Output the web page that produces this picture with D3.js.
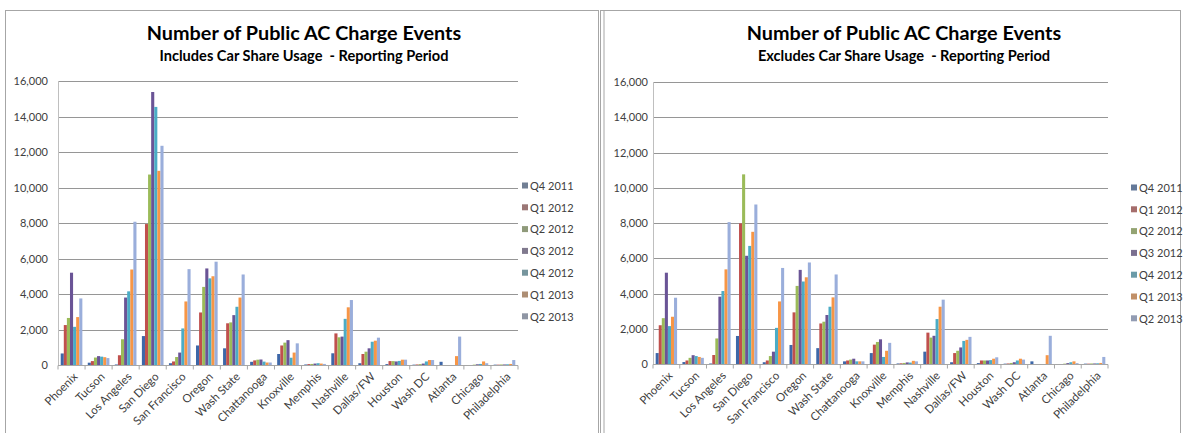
<!DOCTYPE html>
<html>
<head>
<meta charset="utf-8">
<script src="https://cdn.jsdelivr.net/npm/d3@7"></script>
<style>
  html, body { margin: 0; padding: 0; background: #fff; }
  svg { display: block; }
  text { font-family: Lato, "Open Sans", "DejaVu Sans", sans-serif; white-space: pre; }
</style>
</head>
<body>
<svg id="chart" width="1184" height="433"></svg>
<script>
// Cities on the horizontal axis
const cities = ["Phoenix", "Tucson", "Los Angeles", "San Diego", "San Francisco", "Oregon",
  "Wash State", "Chattanooga", "Knoxville", "Memphis", "Nashville", "Dallas/FW",
  "Houston", "Wash DC", "Atlanta", "Chicago", "Philadelphia"];

// Reporting quarters (one bar per quarter in every city)
const quarters = ["Q4 2011", "Q1 2012", "Q2 2012", "Q3 2012", "Q4 2012", "Q1 2013", "Q2 2013"];

// Charge events including car share usage, one array per quarter (city order as above)
const incQ4_2011 = [650, 130, 30, 1630, 100, 1100, 940, 180, 620, 30, 660, 100, 50, 20, 180, 0, 20];
const incQ1_2012 = [2250, 220, 550, 7940, 200, 2960, 2350, 260, 1100, 50, 1780, 620, 220, 30, 0, 0, 20];
const incQ2_2012 = [2650, 420, 1450, 10730, 450, 4400, 2400, 300, 1260, 60, 1560, 750, 220, 50, 0, 20, 30];
const incQ3_2012 = [5200, 500, 3800, 15380, 700, 5440, 2810, 310, 1400, 80, 1600, 940, 200, 80, 0, 40, 30];
const incQ4_2012 = [2150, 470, 4150, 14540, 2060, 4880, 3280, 190, 410, 100, 2600, 1310, 230, 200, 0, 60, 40];
const incQ1_2013 = [2700, 440, 5380, 10940, 3580, 5000, 3800, 140, 700, 80, 3250, 1370, 300, 280, 500, 200, 60];
const incQ2_2013 = [3750, 390, 8070, 12350, 5400, 5820, 5100, 140, 1220, 60, 3660, 1540, 300, 280, 1600, 100, 280];

// Charge events excluding car share usage
const excQ4_2011 = [620, 110, 30, 1590, 100, 1080, 900, 150, 620, 30, 700, 100, 50, 20, 150, 0, 20];
const excQ1_2012 = [2200, 200, 510, 7980, 200, 2930, 2300, 200, 1100, 40, 1780, 620, 200, 30, 0, 0, 20];
const excQ2_2012 = [2600, 350, 1450, 10760, 450, 4430, 2400, 250, 1250, 60, 1500, 750, 200, 60, 0, 20, 30];
const excQ3_2012 = [5180, 500, 3820, 6140, 700, 5340, 2780, 300, 1400, 90, 1600, 940, 200, 100, 0, 50, 30];
const excQ4_2012 = [2150, 450, 4140, 6700, 2050, 4680, 3250, 150, 400, 80, 2550, 1310, 220, 200, 0, 100, 40];
const excQ1_2013 = [2680, 400, 5370, 7500, 3550, 4920, 3780, 150, 750, 180, 3250, 1370, 300, 300, 500, 150, 60];
const excQ2_2013 = [3760, 350, 8050, 9050, 5450, 5760, 5080, 150, 1200, 150, 3650, 1540, 380, 250, 1600, 50, 400];

// Value axis ticks
const yTicks = [0, 2000, 4000, 6000, 8000, 10000, 12000, 14000, 16000];

const title = "Number of Public AC Charge Events";
const subtitles = ["Includes Car Share Usage  - Reporting Period", "Excludes Car Share Usage  - Reporting Period"];

const seriesColors = ["#3d67a8", "#c0504d", "#9bbb59", "#6a5496", "#4bacc6", "#f79646", "#9aaedb"];

const svg = d3.select("#chart");

function drawPanel(cfg) {
  const g = svg.append("g");

  // panel frame
  g.append("rect")
    .attr("x", cfg.frame[0]).attr("y", cfg.frame[1])
    .attr("width", cfg.frame[2]).attr("height", cfg.frame[3])
    .attr("fill", "#fff").attr("stroke", "#a6a6a6").attr("stroke-width", 1);
  if (cfg.doubleEdge) {
    g.append("line")
      .attr("x1", cfg.frame[0] + 3.5).attr("x2", cfg.frame[0] + 3.5)
      .attr("y1", cfg.frame[1]).attr("y2", cfg.frame[1] + cfg.frame[3])
      .attr("stroke", "#a6a6a6");
  }

  // titles
  g.append("text").attr("x", cfg.titleX).attr("y", 40)
    .attr("text-anchor", "middle").attr("font-size", 19.8).attr("font-weight", 700)
    .attr("fill", "#000").text(title);
  g.append("text").attr("x", cfg.titleX).attr("y", 61)
    .attr("text-anchor", "middle").attr("font-size", 14.6).attr("font-weight", 700)
    .attr("fill", "#000").text(cfg.subtitle);

  const x = d3.scaleBand().domain(cities).range([cfg.left, cfg.right]).paddingInner(0.2).paddingOuter(0.1);
  const xs = d3.scaleBand().domain(quarters).range([0, x.bandwidth()]);
  const y = d3.scaleLinear().domain([0, 16000]).range([cfg.base, cfg.top]);

  // gridlines
  g.append("g").selectAll("line").data(yTicks.slice(1)).join("line")
    .attr("x1", cfg.left).attr("x2", cfg.right)
    .attr("y1", d => Math.round(y(d)) + 0.5).attr("y2", d => Math.round(y(d)) + 0.5)
    .attr("stroke", "#969696").attr("stroke-width", 1);

  // y axis labels
  const yAxis = d3.axisLeft(y).tickValues(yTicks).tickFormat(d3.format(",")).tickSize(0).tickPadding(0);
  const ya = g.append("g").attr("transform", `translate(${cfg.labelRight},0)`).call(yAxis);
  ya.select(".domain").remove();
  ya.selectAll("text").attr("font-size", 11).attr("fill", "#404040")
    .attr("font-family", "Lato, 'Open Sans', sans-serif");

  // left axis line
  g.append("line").attr("x1", cfg.left + 0.5).attr("x2", cfg.left + 0.5)
    .attr("y1", cfg.top).attr("y2", cfg.base)
    .attr("stroke", "#bfbfbf");

  // bars
  const groups = g.append("g").selectAll("g").data(cities).join("g")
    .attr("transform", d => `translate(${x(d)},0)`);
  groups.selectAll("rect")
    .data((c, i) => quarters.map((q, k) => ({ q, k, v: cfg.series[k][i] })))
    .join("rect")
    .attr("x", d => xs(d.q))
    .attr("width", xs.bandwidth())
    .attr("y", d => y(d.v))
    .attr("height", d => y(0) - y(d.v))
    .attr("fill", d => seriesColors[d.k]);

  // category axis with tick marks between groups
  const xa = g.append("g").attr("transform", `translate(0,${Math.round(cfg.base) + 0.5})`);
  xa.append("line").attr("x1", cfg.left).attr("x2", cfg.right).attr("stroke", "#a6a6a6");
  xa.selectAll("line.tick").data(d3.range(cities.length + 1)).join("line")
    .attr("class", "tick")
    .attr("x1", i => cfg.left + i * (cfg.right - cfg.left) / cities.length)
    .attr("x2", i => cfg.left + i * (cfg.right - cfg.left) / cities.length)
    .attr("y1", 0).attr("y2", 4).attr("stroke", "#a6a6a6");
  xa.selectAll("text").data(cities).join("text")
    .attr("transform", d => `translate(${x(d) + x.bandwidth() / 2 + 4},${9}) rotate(-45)`)
    .attr("text-anchor", "end").attr("dy", "0.35em")
    .attr("font-size", 11.5).attr("fill", "#404040").text(d => d);

  // legend
  const lg = g.append("g").attr("transform", `translate(${cfg.legendX},${cfg.legendY})`);
  const items = lg.selectAll("g").data(quarters).join("g")
    .attr("transform", (d, i) => `translate(0,${i * 21.8})`);
  items.append("rect").attr("x", 0).attr("y", -3.5).attr("width", 6).attr("height", 6)
    .attr("fill", (d, i) => d3.interpolateRgb(seriesColors[i], "#8a8a8a")(cfg.legendMute));
  items.append("text").attr("x", 8).attr("dy", "0.35em")
    .attr("font-size", 11).attr("fill", "#404040").text(d => d);
}

drawPanel({
  frame: [5.5, 10.5, 593, 440],
  titleX: 304,
  subtitle: subtitles[0],
  left: 58, right: 518, top: 81, base: 365,
  labelRight: 48,
  legendX: 522, legendY: 186, legendMute: 0.68,
  series: [incQ4_2011, incQ1_2012, incQ2_2012, incQ3_2012, incQ4_2012, incQ1_2013, incQ2_2013]
});

drawPanel({
  frame: [600.5, 10.5, 580, 440],
  doubleEdge: true,
  titleX: 904,
  subtitle: subtitles[1],
  left: 653, right: 1108, top: 82, base: 364,
  labelRight: 648,
  legendX: 1131, legendY: 188, legendMute: 0.5,
  series: [excQ4_2011, excQ1_2012, excQ2_2012, excQ3_2012, excQ4_2012, excQ1_2013, excQ2_2013]
});
</script>
</body>
</html>
